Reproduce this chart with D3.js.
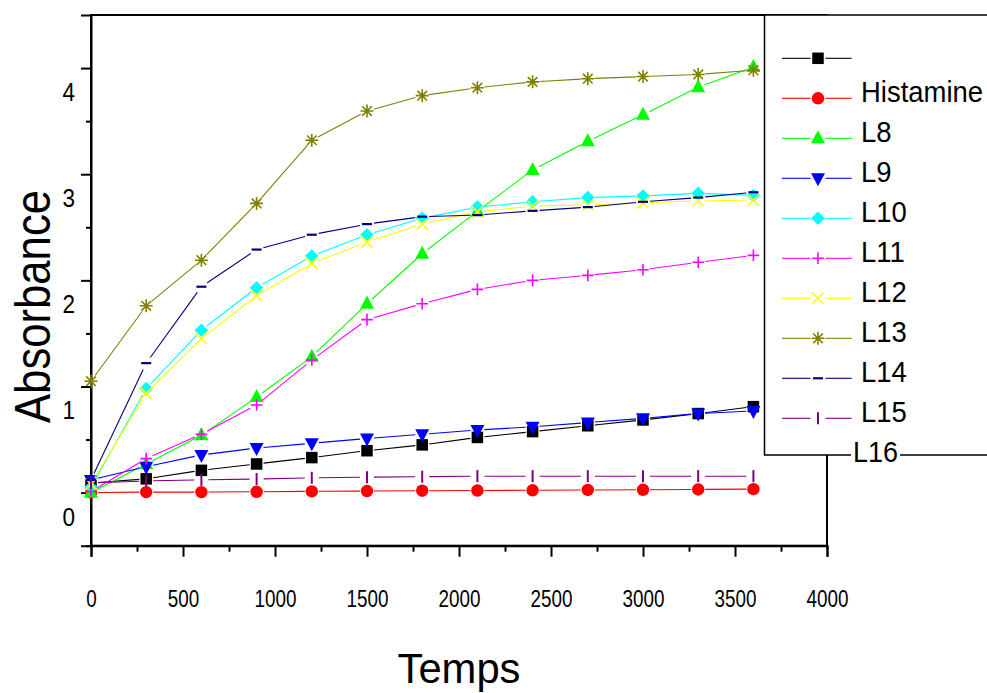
<!DOCTYPE html>
<html><head><meta charset="utf-8">
<script src="https://cdn.jsdelivr.net/npm/d3@7"></script>
<style>
body{margin:0;background:#fff}
svg{display:block}
text{font-family:"Liberation Sans",Arial,Helvetica,sans-serif;fill:#000}
</style>
</head><body>
<svg id="chart" width="987" height="693"></svg>
<script>
// ---------- data ----------
const times = [0, 300, 600, 900, 1200, 1500, 1800, 2100, 2400, 2700, 3000, 3300, 3600];
const seriesNames = ["", "Histamine", "L8", "L9", "L10", "L11", "L12", "L13", "L14", "L15"];
const sBlank     = [0.09, 0.13, 0.21, 0.27, 0.33, 0.395, 0.45, 0.52, 0.575, 0.63, 0.685, 0.745, 0.81];
const sHistamine = [0.0, 0.005, 0.005, 0.008, 0.012, 0.015, 0.018, 0.02, 0.022, 0.025, 0.027, 0.03, 0.033];
const sL8  = [0.0, 0.27, 0.54, 0.90, 1.28, 1.78, 2.25, 2.65, 3.04, 3.31, 3.56, 3.82, 4.01];
const sL9  = [0.12, 0.245, 0.355, 0.42, 0.465, 0.51, 0.55, 0.59, 0.62, 0.66, 0.70, 0.745, 0.77];
const sL10 = [0.05, 0.98, 1.53, 1.93, 2.23, 2.43, 2.585, 2.69, 2.74, 2.78, 2.795, 2.82, 2.80];
const sL11 = [0.01, 0.32, 0.55, 0.825, 1.25, 1.63, 1.78, 1.915, 2.0, 2.047, 2.10, 2.17, 2.235];
const sL12 = [0.08, 0.935, 1.45, 1.855, 2.16, 2.36, 2.53, 2.645, 2.70, 2.71, 2.73, 2.75, 2.755];
const sL13 = [1.05, 1.76, 2.19, 2.725, 3.32, 3.595, 3.74, 3.815, 3.87, 3.90, 3.92, 3.94, 3.98];
const sL14 = [0.12, 1.22, 1.94, 2.29, 2.43, 2.53, 2.60, 2.615, 2.655, 2.69, 2.74, 2.78, 2.83];
const sL15 = [0.09, 0.11, 0.12, 0.128, 0.14, 0.145, 0.15, 0.155, 0.155, 0.155, 0.155, 0.155, 0.155];
const seriesValues = [sBlank, sHistamine, sL8, sL9, sL10, sL11, sL12, sL13, sL14, sL15];
const seriesColors = ["#000000", "#ff0000", "#00ff00", "#0000ff", "#00ffff", "#ff00ff", "#ffff00", "#808000", "#000080", "#800080"];
const seriesSymbols = ["square", "circle", "triUp", "triDown", "diamond", "plus", "cross", "star", "dash", "bar"];
const extraLegendLabel = "L16";
const xTickValues = [0, 500, 1000, 1500, 2000, 2500, 3000, 3500, 4000];
const xMinorValues = [250, 750, 1250, 1750, 2250, 2750, 3250, 3750];
const yTickValues = [0, 1, 2, 3, 4];
const yMinorValues = [-0.5, 0.5, 1.5, 2.5, 3.5];
const xTitle = "Temps";
const yTitle = "Absorbance";

// ---------- layout ----------
const L = 91, R = 827, T = 15, B = 545.7;
const svg = d3.select("#chart");
const x = d3.scaleLinear().domain([0, 4000]).range([L, R]);
const y = d3.scaleLinear().domain([-0.5, 4.5]).range([B, T]);

// ---------- frame ----------
svg.append("rect").attr("x", L).attr("y", T).attr("width", R - L).attr("height", B - T)
  .attr("fill", "none").attr("stroke", "#000").attr("stroke-width", 2);

// ---------- axes ----------
const xAx = svg.append("g").attr("transform", `translate(0,${B})`)
  .call(d3.axisBottom(x).tickValues(xTickValues).tickSize(11).tickFormat(d => d));
xAx.select(".domain").attr("stroke-width", 2);
xAx.selectAll(".tick line").attr("stroke-width", 2);
xAx.selectAll(".tick text").attr("y", 61).attr("dy", null)
  .attr("font-size", 23).attr("transform", "scale(0.82,1)");
const xMin = svg.append("g").attr("transform", `translate(0,${B})`)
  .call(d3.axisBottom(x).tickValues(xMinorValues).tickSize(6).tickFormat(""));
xMin.select(".domain").remove();
xMin.selectAll(".tick line").attr("stroke-width", 2);

const yAx = svg.append("g").attr("transform", `translate(${L},0)`)
  .call(d3.axisLeft(y).tickValues(yTickValues).tickSize(10).tickFormat(d => d));
yAx.select(".domain").attr("stroke-width", 2);
yAx.selectAll(".tick line").attr("stroke-width", 2);
yAx.selectAll(".tick text").attr("x", -16 / 0.9).attr("y", 32.5).attr("dy", null)
  .attr("font-size", 25).attr("transform", "scale(0.9,1)");
const yMin = svg.append("g").attr("transform", `translate(${L},0)`)
  .call(d3.axisLeft(y).tickValues(yMinorValues).tickSize(5).tickFormat(""));
yMin.select(".domain").remove();
yMin.selectAll(".tick line").attr("stroke-width", 2);
svg.selectAll(".tick text").attr("font-family", "Liberation Sans, Arial, sans-serif").attr("fill", "#000");

// ---------- titles ----------
svg.append("text").attr("x", 459).attr("y", 683).attr("text-anchor", "middle")
  .attr("font-size", 42).attr("textLength", 123).attr("lengthAdjust", "spacingAndGlyphs").text(xTitle);
svg.append("text").attr("transform", "translate(50,306.5) rotate(-90)").attr("text-anchor", "middle")
  .attr("font-size", 50).attr("textLength", 233).attr("lengthAdjust", "spacingAndGlyphs").text(yTitle);

// ---------- symbols ----------
function drawSymbol(g, type, c) {
  switch (type) {
    case "square": g.append("rect").attr("x", -5.75).attr("y", -5.75).attr("width", 11.5).attr("height", 11.5).attr("fill", c); break;
    case "circle": g.append("circle").attr("r", 6.2).attr("fill", c); break;
    case "triUp": g.append("path").attr("d", "M0,-8L7,5L-7,5Z").attr("fill", c); break;
    case "triDown": g.append("path").attr("d", "M0,8L7,-5L-7,-5Z").attr("fill", c); break;
    case "diamond": g.append("path").attr("d", "M0,-6.8L6.8,0L0,6.8L-6.8,0Z").attr("fill", c); break;
    case "plus": g.append("path").attr("d", "M-5.8,0H5.8M0,-5.8V5.8").attr("stroke", c).attr("stroke-width", 1.6).attr("fill", "none"); break;
    case "cross": g.append("path").attr("d", "M-5.5,-5.5L5.5,5.5M-5.5,5.5L5.5,-5.5").attr("stroke", c).attr("stroke-width", 1.6).attr("fill", "none"); break;
    case "star": g.append("path").attr("d", "M-6.5,0H6.5M0,-6.5V6.5M-4.8,-4.8L4.8,4.8M-4.8,4.8L4.8,-4.8").attr("stroke", c).attr("stroke-width", 1.6).attr("fill", "none"); break;
    case "dash": g.append("path").attr("d", "M-5,0H5").attr("stroke", c).attr("stroke-width", 2.2).attr("fill", "none"); break;
    case "bar": g.append("path").attr("d", "M0,-6V6").attr("stroke", c).attr("stroke-width", 2).attr("fill", "none"); break;
  }
}

// ---------- series ----------
const gap = 7;
const plot = svg.append("g");
seriesValues.forEach((vals, si) => {
  const c = seriesColors[si];
  const pts = vals.map((v, i) => [x(times[i]), y(v)]);
  const sg = plot.append("g");
  for (let i = 0; i < pts.length - 1; i++) {
    const [x1, y1] = pts[i], [x2, y2] = pts[i + 1];
    const dx = x2 - x1, dy = y2 - y1, len = Math.hypot(dx, dy);
    if (len <= 2 * gap) continue;
    const ux = dx / len, uy = dy / len;
    sg.append("line").attr("x1", x1 + ux * gap).attr("y1", y1 + uy * gap)
      .attr("x2", x2 - ux * gap).attr("y2", y2 - uy * gap)
      .attr("stroke", c).attr("stroke-width", 1.1);
  }
  pts.forEach(p => drawSymbol(sg.append("g").attr("transform", `translate(${p[0]},${p[1]})`), seriesSymbols[si], c));
});

// ---------- legend ----------
const LX = 764.5, LT = 15, LB = 455;
svg.append("rect").attr("x", LX).attr("y", LT).attr("width", 240).attr("height", LB - LT)
  .attr("fill", "#fff").attr("stroke", "#000").attr("stroke-width", 1.5);
const leg = svg.append("g");
seriesNames.forEach((name, i) => {
  const ry = 58.3 + i * 40, c = seriesColors[i];
  leg.append("line").attr("x1", 782).attr("x2", 810.5).attr("y1", ry).attr("y2", ry).attr("stroke", c).attr("stroke-width", 1.1);
  leg.append("line").attr("x1", 825.5).attr("x2", 851.7).attr("y1", ry).attr("y2", ry).attr("stroke", c).attr("stroke-width", 1.1);
  drawSymbol(leg.append("g").attr("transform", `translate(818,${ry})`), seriesSymbols[i], c);
  if (name) leg.append("text").attr("transform", `translate(861,${ry + 3.5}) scale(0.915,1)`)
    .attr("font-size", 30).text(name);
});
const l16bg = svg.append("rect").attr("fill", "#fff");
const l16 = svg.append("text").attr("transform", `translate(853,461.5) scale(0.9,1)`)
  .attr("font-size", 30).text(extraLegendLabel);
const bb = l16.node().getBBox();
l16bg.attr("x", 851).attr("y", 448).attr("width", bb.width * 0.9 + 4).attr("height", 14);
</script>
</body></html>
